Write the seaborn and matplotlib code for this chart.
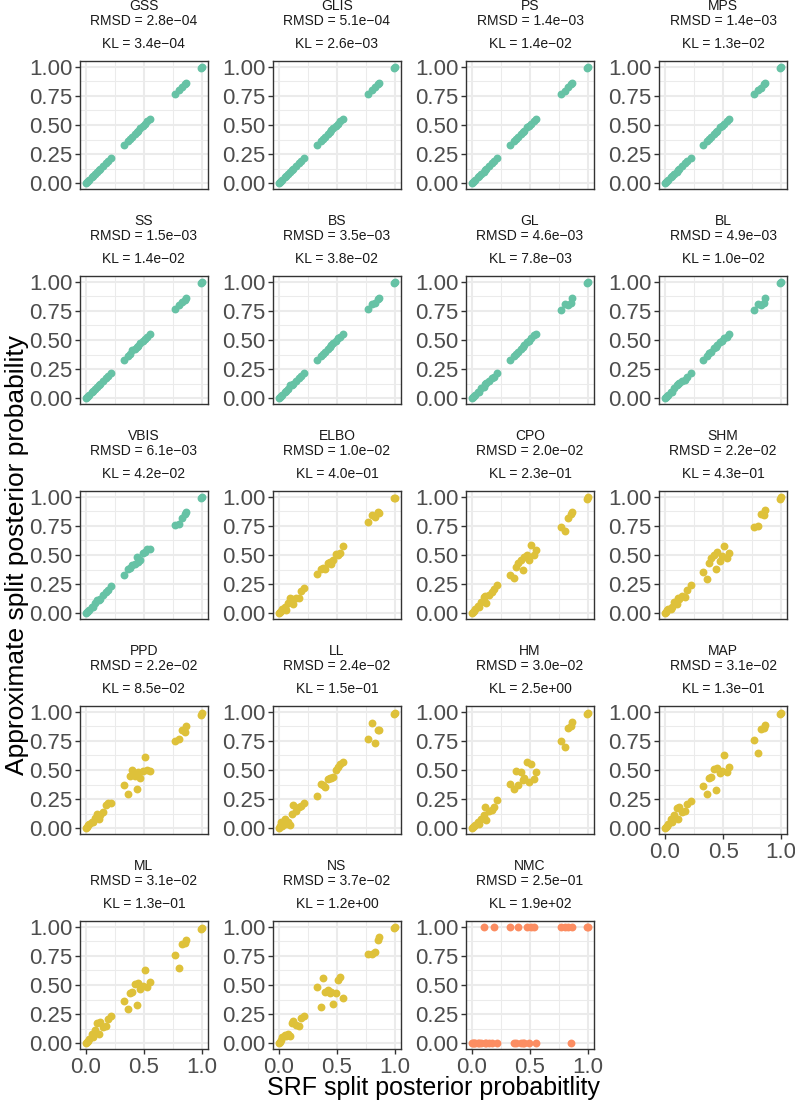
import pandas as pd
import seaborn as sns
import matplotlib.pyplot as plt
from matplotlib.ticker import MultipleLocator, FormatStrFormatter

# method order, as in the facets
methods = ['GSS', 'GLIS', 'PS', 'MPS', 'SS', 'BS', 'GL', 'BL', 'VBIS', 'ELBO',
           'CPO', 'SHM', 'PPD', 'LL', 'HM', 'MAP', 'ML', 'NS', 'NMC']
rmsd = [2.8e-04, 5.1e-04, 1.4e-03, 1.4e-03, 1.5e-03, 3.5e-03, 4.6e-03, 4.9e-03, 6.1e-03, 1.0e-02,
        2.0e-02, 2.2e-02, 2.2e-02, 2.4e-02, 3.0e-02, 3.1e-02, 3.1e-02, 3.7e-02, 2.5e-01]
kl = [3.4e-04, 2.6e-03, 1.4e-02, 1.3e-02, 1.4e-02, 3.8e-02, 7.8e-03, 1.0e-02, 4.2e-02, 4.0e-01,
      2.3e-01, 4.3e-01, 8.5e-02, 1.5e-01, 2.5e+00, 1.3e-01, 1.3e-01, 1.2e+00, 1.9e+02]
groups = ['A', 'A', 'A', 'A', 'A', 'A', 'A', 'A', 'A', 'B',
          'B', 'B', 'B', 'B', 'B', 'B', 'B', 'B', 'C']

# SRF split posterior probabilities (x for every panel)
srf = [0.00, 0.01, 0.02, 0.03, 0.05, 0.06, 0.08, 0.10, 0.11, 0.12, 0.15, 0.17, 0.19, 0.22,
       0.33, 0.36, 0.38, 0.40, 0.42, 0.44, 0.45, 0.47, 0.49, 0.51, 0.53, 0.55,
       0.77, 0.80, 0.83, 0.85, 0.86, 0.99, 1.00]

# approximate split posterior probabilities, one list per method
gss = [0.00, 0.01, 0.02, 0.03, 0.05, 0.06, 0.08, 0.10, 0.11, 0.12, 0.15, 0.17, 0.19, 0.22,
       0.33, 0.36, 0.38, 0.40, 0.42, 0.44, 0.45, 0.47, 0.49, 0.51, 0.53, 0.55,
       0.77, 0.80, 0.83, 0.85, 0.86, 0.99, 1.00]
glis = [0.00, 0.01, 0.02, 0.03, 0.05, 0.06, 0.08, 0.10, 0.11, 0.12, 0.15, 0.17, 0.19, 0.22,
        0.33, 0.36, 0.38, 0.40, 0.42, 0.44, 0.46, 0.47, 0.49, 0.51, 0.53, 0.55,
        0.77, 0.80, 0.83, 0.85, 0.86, 0.99, 1.00]
ps = [0.00, 0.01, 0.02, 0.03, 0.05, 0.06, 0.08, 0.10, 0.11, 0.12, 0.15, 0.17, 0.19, 0.22,
      0.33, 0.36, 0.38, 0.40, 0.42, 0.44, 0.45, 0.48, 0.49, 0.51, 0.53, 0.55,
      0.77, 0.79, 0.83, 0.85, 0.86, 0.99, 1.00]
mps = [0.00, 0.01, 0.02, 0.03, 0.05, 0.06, 0.08, 0.10, 0.11, 0.12, 0.15, 0.17, 0.19, 0.22,
       0.33, 0.36, 0.38, 0.40, 0.42, 0.44, 0.45, 0.48, 0.49, 0.51, 0.53, 0.55,
       0.77, 0.80, 0.82, 0.85, 0.86, 0.99, 1.00]
ss = [0.00, 0.01, 0.02, 0.03, 0.05, 0.06, 0.08, 0.10, 0.11, 0.12, 0.15, 0.17, 0.19, 0.22,
      0.33, 0.36, 0.38, 0.41, 0.42, 0.44, 0.45, 0.47, 0.49, 0.51, 0.53, 0.55,
      0.77, 0.80, 0.83, 0.84, 0.86, 0.99, 1.00]
bs = [0.00, 0.01, 0.02, 0.03, 0.05, 0.06, 0.08, 0.11, 0.11, 0.12, 0.15, 0.17, 0.19, 0.22,
      0.33, 0.36, 0.38, 0.40, 0.42, 0.44, 0.46, 0.47, 0.49, 0.52, 0.53, 0.55,
      0.77, 0.81, 0.82, 0.85, 0.86, 0.99, 1.00]
gl = [0.00, 0.01, 0.02, 0.03, 0.05, 0.05, 0.09, 0.10, 0.12, 0.13, 0.15, 0.17, 0.18, 0.22,
      0.33, 0.36, 0.38, 0.40, 0.42, 0.44, 0.46, 0.48, 0.49, 0.52, 0.54, 0.55,
      0.76, 0.81, 0.80, 0.82, 0.86, 0.99, 1.00]
bl = [0.00, 0.01, 0.02, 0.03, 0.05, 0.05, 0.09, 0.11, 0.12, 0.13, 0.15, 0.16, 0.18, 0.22,
      0.33, 0.36, 0.39, 0.40, 0.43, 0.44, 0.46, 0.48, 0.49, 0.52, 0.53, 0.55,
      0.76, 0.81, 0.80, 0.82, 0.86, 0.99, 1.00]
vbis = [0.00, 0.01, 0.02, 0.03, 0.05, 0.05, 0.09, 0.11, 0.11, 0.12, 0.16, 0.18, 0.20, 0.23,
        0.33, 0.38, 0.39, 0.41, 0.42, 0.48, 0.44, 0.46, 0.52, 0.53, 0.55, 0.55,
        0.76, 0.77, 0.82, 0.85, 0.87, 0.99, 1.00]
elbo = [0.00, 0.01, 0.02, 0.04, 0.05, 0.03, 0.09, 0.13, 0.12, 0.08, 0.13, 0.13, 0.19, 0.22,
        0.34, 0.38, 0.39, 0.38, 0.43, 0.44, 0.42, 0.46, 0.51, 0.50, 0.52, 0.58,
        0.78, 0.84, 0.83, 0.87, 0.86, 0.99, 0.99]
cpo = [0.00, 0.01, 0.02, 0.04, 0.06, 0.05, 0.10, 0.14, 0.15, 0.09, 0.16, 0.18, 0.21, 0.24,
       0.33, 0.30, 0.40, 0.43, 0.46, 0.37, 0.48, 0.50, 0.46, 0.59, 0.50, 0.54,
       0.74, 0.71, 0.82, 0.85, 0.87, 0.98, 1.00]
shm = [0.00, 0.01, 0.03, 0.04, 0.04, 0.05, 0.10, 0.08, 0.13, 0.12, 0.15, 0.14, 0.20, 0.24,
       0.35, 0.29, 0.43, 0.47, 0.50, 0.38, 0.53, 0.45, 0.49, 0.58, 0.47, 0.52,
       0.74, 0.75, 0.85, 0.84, 0.89, 0.98, 1.00]
ppd = [0.00, 0.01, 0.03, 0.04, 0.05, 0.05, 0.09, 0.12, 0.08, 0.11, 0.14, 0.20, 0.22, 0.22,
       0.37, 0.29, 0.45, 0.50, 0.45, 0.34, 0.48, 0.43, 0.49, 0.61, 0.50, 0.49,
       0.75, 0.77, 0.84, 0.83, 0.88, 0.97, 0.99]
ll = [0.00, 0.02, 0.05, 0.02, 0.08, 0.04, 0.05, 0.03, 0.12, 0.20, 0.15, 0.18, 0.19, 0.22,
      0.28, 0.38, 0.37, 0.35, 0.42, 0.43, 0.43, 0.44, 0.50, 0.53, 0.55, 0.57,
      0.77, 0.90, 0.73, 0.84, 0.84, 0.98, 0.99]
hm = [0.00, 0.01, 0.02, 0.03, 0.05, 0.04, 0.08, 0.11, 0.18, 0.07, 0.15, 0.16, 0.18, 0.24,
      0.38, 0.34, 0.49, 0.37, 0.48, 0.41, 0.43, 0.57, 0.40, 0.55, 0.42, 0.48,
      0.75, 0.70, 0.86, 0.88, 0.91, 0.98, 0.99]
map_ = [0.00, 0.01, 0.02, 0.04, 0.08, 0.05, 0.11, 0.17, 0.08, 0.18, 0.14, 0.15, 0.21, 0.23,
        0.36, 0.29, 0.43, 0.44, 0.51, 0.33, 0.52, 0.47, 0.49, 0.63, 0.48, 0.53,
        0.76, 0.65, 0.85, 0.86, 0.89, 0.98, 0.99]
ml = [0.00, 0.01, 0.02, 0.04, 0.08, 0.05, 0.11, 0.17, 0.08, 0.18, 0.14, 0.15, 0.21, 0.23,
      0.36, 0.29, 0.43, 0.44, 0.51, 0.33, 0.52, 0.47, 0.49, 0.63, 0.48, 0.53,
      0.76, 0.65, 0.85, 0.86, 0.89, 0.98, 0.99]
ns = [0.00, 0.01, 0.03, 0.05, 0.07, 0.06, 0.08, 0.06, 0.17, 0.19, 0.16, 0.15, 0.22, 0.23,
      0.48, 0.31, 0.56, 0.44, 0.46, 0.43, 0.44, 0.34, 0.43, 0.54, 0.57, 0.39,
      0.77, 0.77, 0.78, 0.89, 0.91, 0.99, 1.00]
nmc = [0, 0, 0, 0, 0, 0, 0, 1, 0, 0, 0, 0, 1, 0,
       1, 0, 0, 1, 0, 0, 0, 1, 0, 1, 1, 0,
       1, 1, 1, 0, 1, 1, 1]

approx = [gss, glis, ps, mps, ss, bs, gl, bl, vbis, elbo,
          cpo, shm, ppd, ll, hm, map_, ml, ns, nmc]

palette = {'A': '#66C2A5', 'B': '#DEC13A', 'C': '#FC8D62'}

# long format for the facet grid
rows = []
for m, grp, ys in zip(methods, groups, approx):
    for x, y in zip(srf, ys):
        rows.append({'method': m, 'group': grp, 'srf': x, 'approx': y})
df = pd.DataFrame(rows)

sns.set_theme(style='white')
plt.rcParams['font.family'] = ['Liberation Sans', 'DejaVu Sans']

g = sns.FacetGrid(df, col='method', col_wrap=4, col_order=methods, hue='group',
                  palette=palette, sharex=False, sharey=False, height=2, aspect=1,
                  despine=False)
g.map_dataframe(sns.scatterplot, x='srf', y='approx', s=32, linewidth=0, alpha=1)
g.set_axis_labels('', '')
g.set_titles('')

fig = g.figure
fig.set_size_inches(7.95, 11.08)
fig.subplots_adjust(left=80 / 795, right=787 / 795, bottom=1 - 1049 / 1108,
                    top=1 - 61 / 1108, wspace=0.51, hspace=0.68)

n = len(methods)
for i, ax in enumerate(g.axes.flat):
    ax.set_xlim(-0.05, 1.05)
    ax.set_ylim(-0.05, 1.05)
    ax.set_xticks([0, 0.5, 1.0])
    ax.set_yticks([0, 0.25, 0.5, 0.75, 1.0])
    ax.xaxis.set_minor_locator(MultipleLocator(0.25))
    ax.yaxis.set_minor_locator(MultipleLocator(0.125))
    ax.xaxis.set_major_formatter(FormatStrFormatter('%.1f'))
    ax.yaxis.set_major_formatter(FormatStrFormatter('%.2f'))
    ax.set_axisbelow(True)
    ax.grid(which='major', color='#EBEBEB', lw=1.5)
    ax.grid(which='minor', color='#EBEBEB', lw=0.75)
    for sp in ax.spines.values():
        sp.set_color('#333333')
        sp.set_linewidth(1.0)
    ax.tick_params(which='major', length=3.5, width=1, color='#333333',
                   labelcolor='#4D4D4D', labelsize=16, pad=2,
                   left=True, bottom=True)
    ax.tick_params(which='minor', length=0)
    if i < n - 4:
        ax.tick_params(bottom=False, labelbottom=False)

    # facet labels
    r = '{:.1e}'.format(rmsd[i]).replace('-', '\u2212')
    k = '{:.1e}'.format(kl[i]).replace('-', '\u2212')
    ax.text(0.5, 1 + 55 / 128, methods[i], transform=ax.transAxes,
            ha='center', va='center', fontsize=10, color='#1A1A1A')
    ax.text(0.5, 1 + 40.5 / 128, 'RMSD = ' + r, transform=ax.transAxes,
            ha='center', va='center', fontsize=10, color='#1A1A1A')
    ax.text(0.5, 1 + 17 / 128, 'KL = ' + k, transform=ax.transAxes,
            ha='center', va='center', fontsize=10, color='#1A1A1A')

fig.text(433 / 795, 1 - 1088 / 1108, 'SRF split posterior probabitlity',
         ha='center', va='center', fontsize=18, color='black')
fig.text(17 / 795, 1 - 555 / 1108, 'Approximate split posterior probability',
         ha='center', va='center', rotation=90, fontsize=19, color='black')

fig.savefig('out.png', dpi=100, facecolor='white')
